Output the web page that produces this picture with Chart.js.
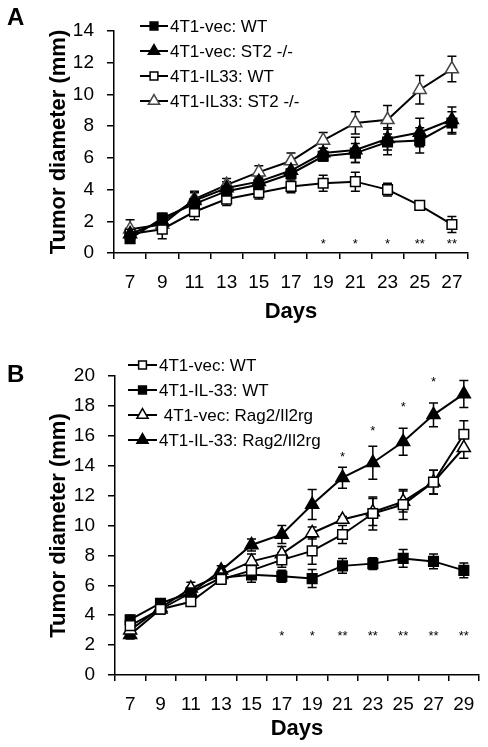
<!DOCTYPE html>
<html>
<head>
<meta charset="utf-8">
<script src="https://cdn.jsdelivr.net/npm/chart.js@4.4.1/dist/chart.umd.min.js"></script>
<style>
  body { margin: 0; background: #fff; }
  #wrap { position: relative; width: 488px; height: 747px; background: #fff; }
  .panel { position: absolute; left: 0; width: 488px; }
  .tag { position: absolute; font: bold 24px "Liberation Sans", Arial, sans-serif; color: #000; }
</style>
</head>
<body>
<div id="wrap">
  <div class="panel" style="top:0;height:330px"><canvas id="chartA" width="488" height="330"></canvas></div>
  <div class="panel" style="top:330px;height:417px"><canvas id="chartB" width="488" height="417"></canvas></div>
  <div class="tag" style="left:7px;top:3px">A</div>
  <div class="tag" style="left:7px;top:360px">B</div>
</div>
<script>
const FONT = '"Liberation Sans", Arial, sans-serif';

// ---- panel A data ----
const daysA = ['7', '9', '11', '13', '15', '17', '19', '21', '23', '25', '27'];
const vecWT_A    = [0.9, 2.2, 3.1, 3.9, 4.3, 5.0, 6.1, 6.3, 7.0, 7.1, 8.2];
const vecWT_A_err = [0.2, 0.3, 0.4, 0.3, 0.3, 0.3, 0.3, 0.6, 0.8, 0.8, 0.7];
const vecST2_A   = [1.2, 2.0, 3.3, 4.1, 4.5, 5.2, 6.3, 6.5, 7.2, 7.6, 8.4];
const vecST2_A_err = [0.3, 0.3, 0.5, 0.4, 0.3, 0.4, 0.3, 0.8, 0.7, 0.9, 0.8];
const il33WT_A   = [1.2, 1.5, 2.6, 3.4, 3.8, 4.2, 4.4, 4.5, 4.0, 3.0, 1.8];
const il33WT_A_err = [0.4, 0.6, 0.5, 0.4, 0.4, 0.4, 0.5, 0.6, 0.4, 0.25, 0.5];
const il33ST2_A  = [1.5, 1.8, 3.4, 4.3, 5.1, 5.8, 7.1, 8.2, 8.4, 10.3, 11.6];
const il33ST2_A_err = [0.6, 0.5, 0.5, 0.4, 0.4, 0.5, 0.5, 0.7, 0.9, 0.9, 0.8];
const starsA = ['', '', '', '', '', '', '*', '*', '*', '**', '**'];
const starsA_level = 0.55;

// ---- panel B data ----
const daysB = ['7', '9', '11', '13', '15', '17', '19', '21', '23', '25', '27', '29'];
const vecWT_B    = [3.3, 4.4, 4.9, 6.4, 7.0, 7.7, 8.3, 9.4, 10.8, 11.4, 12.9, 16.1];
const vecWT_B_err = [0.3, 0.3, 0.3, 0.3, 0.4, 0.5, 0.9, 0.6, 1.1, 1.0, 0.8, 0.9];
const il33WT_B   = [3.7, 4.8, 5.5, 6.5, 6.7, 6.6, 6.45, 7.3, 7.45, 7.8, 7.6, 7.0];
const il33WT_B_err = [0.3, 0.3, 0.3, 0.3, 0.5, 0.4, 0.6, 0.5, 0.4, 0.6, 0.5, 0.5];
const vecRag_B   = [3.0, 4.5, 5.8, 6.7, 7.6, 8.1, 9.5, 10.4, 10.9, 11.6, 12.9, 15.2];
const vecRag_B_err = [0.3, 0.3, 0.4, 0.3, 0.5, 0.5, 0.4, 0.2, 0.9, 0.7, 0.8, 0.7];
const il33Rag_B  = [2.7, 4.4, 5.5, 7.0, 8.7, 9.4, 11.4, 13.2, 14.2, 15.6, 17.4, 18.8];
const il33Rag_B_err = [0.3, 0.3, 0.4, 0.3, 0.4, 0.6, 1.0, 0.7, 1.1, 0.9, 0.8, 0.9];
const starsB_low = ['', '', '', '', '', '*', '*', '**', '**', '**', '**', '**'];
const starsB_low_level = 2.6;
const starsB_high = ['', '', '', '', '', '', '', '*', '*', '*', '*', ''];
const starsB_high_level = [0, 0, 0, 0, 0, 0, 0, 14.55, 16.3, 17.9, 19.6, 0];

function series(label, data, err, style, fill, stroke) {
  return {
    label: label,
    data: data,
    errors: err,
    borderColor: '#000',
    borderWidth: 2,
    pointStyle: style,
    pointRadius: style === 'triangle' ? 7.5 : 6.8,
    pointBackgroundColor: fill,
    pointBorderColor: stroke,
    pointBorderWidth: 1.5,
    tension: 0
  };
}

// error bars, drawn before the lines so the markers sit on top
const errorBars = {
  id: 'errorBars',
  beforeDatasetsDraw(chart) {
    const ctx = chart.ctx;
    const y = chart.scales.y;
    ctx.save();
    ctx.strokeStyle = '#000';
    ctx.lineWidth = 1.5;
    chart.data.datasets.forEach((ds, i) => {
      const meta = chart.getDatasetMeta(i);
      meta.data.forEach((pt, j) => {
        const e = ds.errors[j];
        const top = y.getPixelForValue(ds.data[j] + e);
        const bot = y.getPixelForValue(ds.data[j] - e);
        ctx.beginPath();
        ctx.moveTo(pt.x, top); ctx.lineTo(pt.x, bot);
        ctx.moveTo(pt.x - 4.5, top); ctx.lineTo(pt.x + 4.5, top);
        ctx.moveTo(pt.x - 4.5, bot); ctx.lineTo(pt.x + 4.5, bot);
        ctx.stroke();
      });
    });
    ctx.restore();
  }
};

const starMarks = {
  id: 'starMarks',
  afterDatasetsDraw(chart, args, opts) {
    const ctx = chart.ctx;
    ctx.save();
    ctx.fillStyle = '#000';
    ctx.font = '13px ' + FONT;
    ctx.textAlign = 'center';
    ctx.textBaseline = 'middle';
    opts.rows.forEach(row => {
      row.text.forEach((t, i) => {
        if (!t) return;
        const lvl = Array.isArray(row.level) ? row.level[i] : row.level;
        ctx.fillText(t, chart.scales.x.getPixelForValue(i), chart.scales.y.getPixelForValue(lvl));
      });
    });
    ctx.restore();
  }
};

const lineLegend = {
  id: 'lineLegend',
  afterDraw(chart, args, opts) {
    const ctx = chart.ctx;
    ctx.save();
    chart.data.datasets.forEach((ds, i) => {
      const yy = opts.top + i * opts.gap;
      ctx.strokeStyle = '#000';
      ctx.lineWidth = 2;
      ctx.beginPath();
      ctx.moveTo(opts.x, yy); ctx.lineTo(opts.x + opts.len, yy);
      ctx.stroke();
      ctx.fillStyle = ds.pointBackgroundColor;
      ctx.strokeStyle = ds.pointBorderColor;
      ctx.lineWidth = 1.5;
      Chart.helpers.drawPoint(ctx, {
        pointStyle: ds.pointStyle,
        radius: ds.pointStyle === 'triangle' ? 6.5 : 5.5,
        rotation: 0,
        borderWidth: 1.5
      }, opts.x + opts.len / 2, yy);
      ctx.fillStyle = '#000';
      ctx.font = '17px ' + FONT;
      ctx.textAlign = 'left';
      ctx.textBaseline = 'middle';
      ctx.fillText(ds.label, opts.x + opts.len + 2, yy + 1);
    });
    ctx.restore();
  }
};

function makeChart(id, labels, datasets, yMax, yWidth, xHeight, pad, legend, stars) {
  return new Chart(document.getElementById(id), {
    type: 'line',
    data: { labels: labels, datasets: datasets },
    plugins: [errorBars, starMarks, lineLegend],
    options: {
      responsive: false,
      animation: false,
      layout: { padding: pad },
      plugins: {
        legend: { display: false },
        tooltip: { enabled: false },
        lineLegend: legend,
        starMarks: { rows: stars }
      },
      scales: {
        x: {
          type: 'category',
          offset: true,
          border: { color: '#000', width: 1.5 },
          grid: { offset: true, drawOnChartArea: false, tickLength: 6, color: '#000', lineWidth: 1.5 },
          ticks: { color: '#000', padding: 12, maxRotation: 0, autoSkip: false, font: { family: FONT, size: 19 } },
          title: { display: true, text: 'Days', color: '#000', padding: { top: 4, bottom: 5 }, font: { family: FONT, size: 22, weight: 'bold' } },
          afterFit(s) { s.height = xHeight; }
        },
        y: {
          min: 0,
          max: yMax,
          border: { color: '#000', width: 1.5 },
          grid: { drawOnChartArea: false, tickLength: 7, color: '#000', lineWidth: 1.5 },
          ticks: { stepSize: 2, color: '#000', padding: 13, font: { family: FONT, size: 19 } },
          title: { display: true, text: 'Tumor diameter (mm)', color: '#000', padding: { top: 46, bottom: 4 }, font: { family: FONT, size: 22, weight: 'bold' } },
          afterFit(s) { s.width = yWidth; }
        }
      }
    }
  });
}

makeChart('chartA', daysA, [
  series('4T1-vec: WT', vecWT_A, vecWT_A_err, 'rect', '#000', '#000'),
  series('4T1-vec: ST2 -/-', vecST2_A, vecST2_A_err, 'triangle', '#000', '#000'),
  series('4T1-IL33: WT', il33WT_A, il33WT_A_err, 'rect', '#fff', '#000'),
  series('4T1-IL33: ST2 -/-', il33ST2_A, il33ST2_A_err, 'triangle', '#fff', '#444')
], 14, 114, 77, { top: 31, right: 20, bottom: 0, left: 0 },
  { x: 140, len: 28, top: 26, gap: 25 },
  [{ text: starsA, level: starsA_level }]);

makeChart('chartB', daysB, [
  series('4T1-vec: WT', vecWT_B, vecWT_B_err, 'rect', '#fff', '#000'),
  series('4T1-IL-33: WT', il33WT_B, il33WT_B_err, 'rect', '#000', '#000'),
  series(' 4T1-vec: Rag2/Il2rg', vecRag_B, vecRag_B_err, 'triangle', '#fff', '#000'),
  series('4T1-IL-33: Rag2/Il2rg', il33Rag_B, il33Rag_B_err, 'triangle', '#000', '#000')
], 20, 115, 72, { top: 46, right: 8, bottom: 0, left: 0 },
  { x: 128, len: 29, top: 35, gap: 25 },
  [{ text: starsB_low, level: starsB_low_level }, { text: starsB_high, level: starsB_high_level }]);
</script>
</body>
</html>
